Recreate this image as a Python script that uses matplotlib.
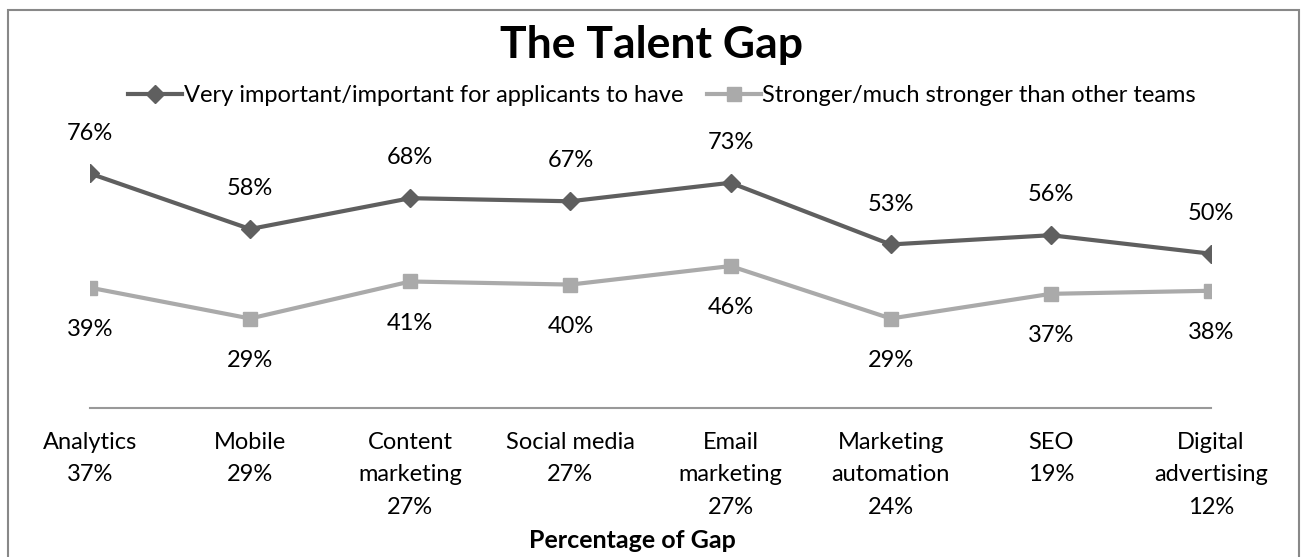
import matplotlib
matplotlib.use("Agg")
import matplotlib.pyplot as plt
from matplotlib.patches import Rectangle

# data
categories = ["Analytics\n37%", "Mobile\n29%", "Content\nmarketing\n27%", "Social media\n27%",
              "Email\nmarketing\n27%", "Marketing\nautomation\n24%", "SEO\n19%", "Digital\nadvertising\n12%"]
important = [76, 58, 68, 67, 73, 53, 56, 50]
stronger = [39, 29, 41, 40, 46, 29, 37, 38]

plt.rcParams['font.family'] = ['Lato', 'DejaVu Sans']

W, H = 1305, 557
fig = plt.figure(figsize=(W / 100, H / 100), dpi=100)

# plot area in pixels: x from first to last category, y=0 at pixel 408
left, right, bottom, top = 90, 1211, 408, 130.3
ax = fig.add_axes([left / W, (H - bottom) / H, (right - left) / W, (bottom - top) / H])

x = list(range(len(categories)))
ax.plot(x, important, color='#5f5f5f', lw=3, marker='D', ms=9, label='Very important/important for applicants to have')
ax.plot(x, stronger, color='#aaaaaa', lw=3, marker='s', ms=10, label='Stronger/much stronger than other teams')

fs = 17
for i, v in enumerate(important):
    ax.annotate(f"{v}%", (i, v), xytext=(0, 29), textcoords='offset points', ha='center', va='center', fontsize=fs)
for i, v in enumerate(stronger):
    ax.annotate(f"{v}%", (i, v), xytext=(0, -30), textcoords='offset points', ha='center', va='center', fontsize=fs)

ax.set_xlim(0, len(categories) - 1)
ax.set_ylim(0, 90)
ax.set_yticks([])
ax.set_xticks(x)
ax.set_xticklabels(categories, fontsize=fs, linespacing=1.68, va='top')
ax.tick_params(axis='x', length=0, pad=17)
for s in ['top', 'right', 'left']:
    ax.spines[s].set_visible(False)
ax.spines['bottom'].set_color('#999999')
ax.spines['bottom'].set_linewidth(1.5)
ax.patch.set_alpha(0)

fig.text(652 / W, (H - 45) / H, 'The Talent Gap', ha='center', va='center', fontsize=32, fontweight='bold')
fig.text(632 / W, (H - 540) / H, 'Percentage of Gap', ha='center', va='center', fontsize=18, fontweight='bold')

fig.legend(loc='center', bbox_to_anchor=(662 / W, (H - 96) / H), ncol=2, frameon=False, fontsize=fs,
           handlelength=2.3, handletextpad=0.05, columnspacing=1.0)

fig.patches.append(Rectangle((8 / W, -0.05), (1299 - 8) / W, (H - 10) / H + 0.05, transform=fig.transFigure,
                             fill=False, edgecolor='#888888', lw=1.5))

fig.savefig('out.png', dpi=100)
